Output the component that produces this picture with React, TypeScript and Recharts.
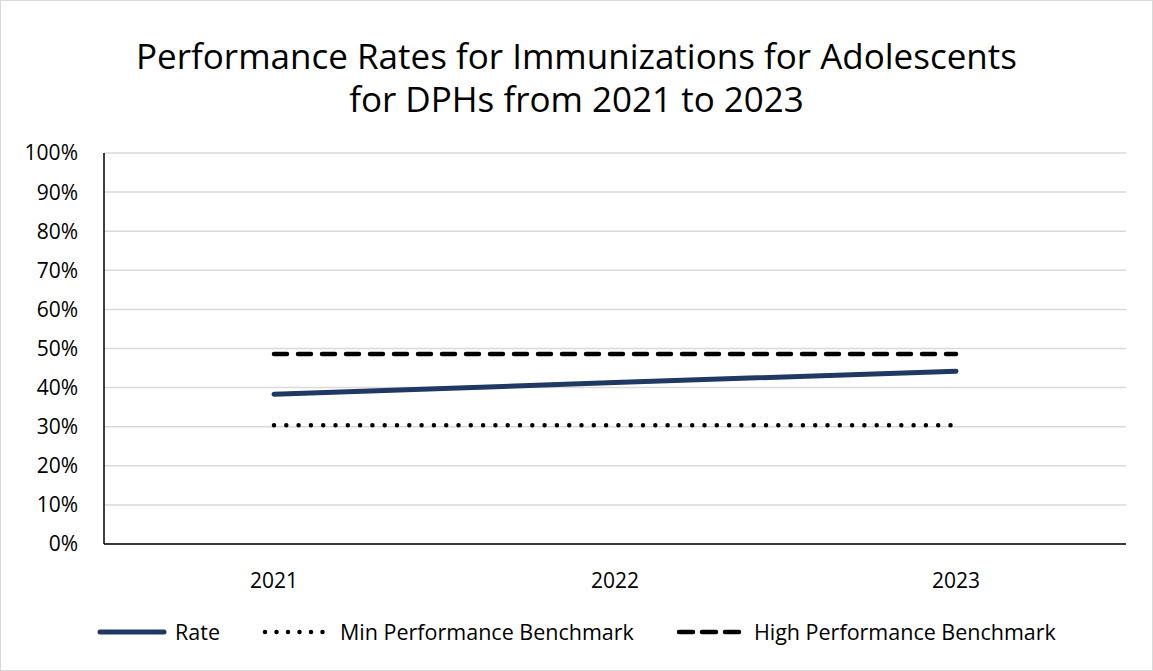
import { LineChart, Line, XAxis, YAxis, CartesianGrid } from "recharts";

// values (percent)
const years = ["2021", "2022", "2023"];
const rate = [38.3, 41.3, 44.2];
const minBenchmark = [30.4, 30.4, 30.4];
const highBenchmark = [48.6, 48.6, 48.6];
const yTicks = [0, 10, 20, 30, 40, 50, 60, 70, 80, 90, 100];

const FONT = "'Open Sans', 'Noto Sans', sans-serif";

const series = [
  { key: "rate", name: "Rate", color: "#1f3864", width: 5, dash: undefined as string | undefined, legendDash: undefined as string | undefined },
  { key: "min", name: "Min Performance Benchmark", color: "#000000", width: 4.5, dash: "0 12.3", legendDash: "0 11.5" },
  { key: "high", name: "High Performance Benchmark", color: "#000000", width: 4.5, dash: "13 11", legendDash: "14 9" },
];

const data = years.map((year, i) => ({
  year,
  rate: rate[i],
  min: minBenchmark[i],
  high: highBenchmark[i],
}));

function LegendRow() {
  return (
    <div
      style={{
        position: "absolute",
        top: 617,
        left: 0,
        width: 1153,
        display: "flex",
        justifyContent: "center",
        gap: 42,
        fontFamily: FONT,
        fontSize: 21.5,
        color: "#000",
      }}
    >
      {series.map((s) => (
        <div key={s.key} style={{ display: "flex", alignItems: "center", gap: 8 }}>
          <svg width={70} height={10}>
            <line
              x1={3}
              y1={5}
              x2={67}
              y2={5}
              stroke={s.color}
              strokeWidth={s.width}
              strokeDasharray={s.legendDash}
              strokeLinecap="round"
            />
          </svg>
          <span>{s.name}</span>
        </div>
      ))}
    </div>
  );
}

export default function App() {
  return (
    <div style={{ position: "absolute", left: 0, top: 0, width: 1153, height: 671, background: "#fff" }}>
      <div
        style={{
          position: "absolute",
          top: 34,
          left: 0,
          width: 1153,
          textAlign: "center",
          fontFamily: FONT,
          fontSize: 35,
          lineHeight: "43px",
          color: "#000",
        }}
      >
        Performance Rates for Immunizations for Adolescents
        <br />
        for DPHs from 2021 to 2023
      </div>
      <LineChart
        width={1153}
        height={671}
        data={data}
        margin={{ top: 153, right: 27, bottom: 87, left: 24 }}
        style={{ position: "absolute", left: 0, top: 0 }}
      >
        <CartesianGrid horizontal vertical={false} stroke="#d9d9d9" strokeWidth={1.5} />
        <XAxis
          dataKey="year"
          height={40}
          padding={{ left: 170, right: 170 }}
          axisLine={{ stroke: "#000", strokeWidth: 1.5 }}
          tickLine={false}
          tickMargin={23}
          tick={{ fill: "#000", fontSize: 21, fontFamily: FONT }}
        />
        <YAxis
          width={80}
          domain={[0, 100]}
          ticks={yTicks}
          interval={0}
          tickFormatter={(v: number) => `${v}%`}
          axisLine={{ stroke: "#000", strokeWidth: 1.5 }}
          tickLine={false}
          tickMargin={20}
          tick={{ fill: "#000", fontSize: 21, fontFamily: FONT }}
        />
        {series.map((s) => (
          <Line
            key={s.key}
            dataKey={s.key}
            name={s.name}
            stroke={s.color}
            strokeWidth={s.width}
            strokeDasharray={s.dash}
            strokeLinecap="round"
            dot={false}
            activeDot={false}
            isAnimationActive={false}
          />
        ))}
      </LineChart>
      <LegendRow />
      <div
        style={{
          position: "absolute",
          left: 0,
          top: 0,
          width: 1153,
          height: 671,
          boxSizing: "border-box",
          border: "1px solid #d9d9d9",
          pointerEvents: "none",
        }}
      />
    </div>
  );
}
